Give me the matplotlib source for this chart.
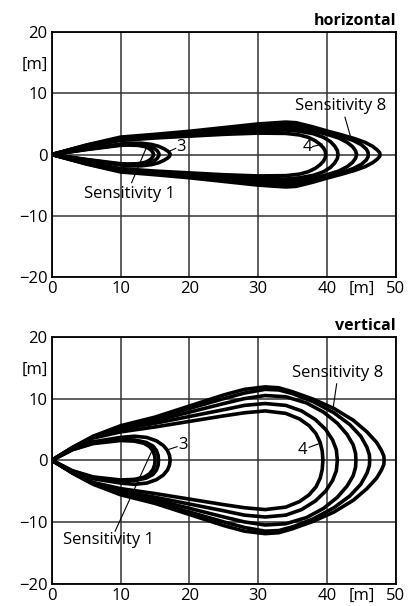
import matplotlib
matplotlib.use('Agg')
import matplotlib.pyplot as plt

plt.rcParams['font.family'] = ['Open Sans', 'DejaVu Sans']

# upper half of each detection field, the lower half is the mirror image
# horizontal field
h1_x = [0, 5, 10, 11, 12.5, 13.5, 14.1, 14.5, 14.7, 14.8]
h1_y = [0, 0.8, 1.5, 1.55, 1.5, 1.3, 1.0, 0.65, 0.3, 0]
h2_x = [0, 5, 10, 11, 13, 14.3, 14.9, 15.3, 15.5, 15.6]
h2_y = [0, 0.85, 1.6, 1.65, 1.55, 1.3, 1.0, 0.65, 0.3, 0]
h3_x = [0, 5, 10, 11, 13, 14.5, 15.5, 16.3, 16.8, 17.1, 17.2]
h3_y = [0, 0.9, 1.7, 1.85, 1.85, 1.65, 1.35, 0.95, 0.6, 0.3, 0]
h4_x = [0, 5, 10, 15, 20, 25, 30, 34, 36, 37.3, 38.3, 39.0, 39.5, 39.75, 39.8]
h4_y = [0, 1.3, 2.3, 2.7, 3.0, 3.3, 3.5, 3.45, 3.2, 2.8, 2.25, 1.65, 1.05, 0.5, 0]
h5_x = [0, 5, 10, 15, 20, 25, 30, 34, 36, 38, 39.5, 40.5, 41.1, 41.5, 41.6]
h5_y = [0, 1.4, 2.5, 2.9, 3.2, 3.6, 3.9, 4.0, 3.8, 3.4, 2.8, 2.1, 1.4, 0.65, 0]
h6_x = [0, 5, 10, 15, 20, 25, 30, 34, 36, 38, 40, 41.7, 42.9, 43.7, 44.15, 44.3]
h6_y = [0, 1.45, 2.6, 3.0, 3.4, 3.8, 4.2, 4.45, 4.25, 3.85, 3.3, 2.7, 2.0, 1.3, 0.6, 0]
h7_x = [0, 5, 10, 15, 20, 25, 30, 34, 36, 38, 40, 42, 43.8, 45.0, 45.7, 45.95, 46.0]
h7_y = [0, 1.5, 2.7, 3.1, 3.6, 4.1, 4.6, 4.9, 4.7, 4.15, 3.6, 3.0, 2.3, 1.6, 0.9, 0.4, 0]
h8_x = [0, 5, 10, 15, 20, 25, 30, 34, 35.5, 38, 40, 42, 44, 45.5, 46.6, 47.3, 47.65, 47.7]
h8_y = [0, 1.55, 2.85, 3.3, 3.8, 4.4, 5.0, 5.3, 5.2, 4.5, 3.85, 3.25, 2.6, 2.0, 1.35, 0.75, 0.3, 0]

# vertical field
v1_x = [0, 3, 6, 10, 12, 13.4, 14.2, 14.7, 14.95, 15.0]
v1_y = [0, 1.7, 2.7, 3.2, 3.1, 2.75, 2.2, 1.5, 0.7, 0]
v2_x = [0, 3, 6, 10, 12, 13.7, 14.7, 15.2, 15.45, 15.5]
v2_y = [0, 1.75, 2.8, 3.35, 3.3, 2.9, 2.3, 1.6, 0.8, 0]
v3_x = [0, 3, 6, 10, 12, 13.8, 15.2, 16.2, 16.8, 17.1, 17.2]
v3_y = [0, 1.8, 3.0, 3.7, 3.9, 3.7, 3.15, 2.4, 1.6, 0.8, 0]
v4_x = [0, 3, 6, 10, 15, 20, 25, 28, 31, 34, 36, 37.4, 38.4, 39.0, 39.3, 39.4]
v4_y = [0, 1.95, 3.6, 4.6, 5.4, 6.3, 7.2, 7.7, 8.0, 7.6, 6.7, 5.6, 4.3, 2.9, 1.5, 0]
v5_x = [0, 3, 6, 10, 15, 20, 25, 28, 31, 34, 36.3, 38.3, 39.8, 40.8, 41.35, 41.5]
v5_y = [0, 2.0, 3.7, 5.0, 6.0, 7.1, 8.2, 8.9, 9.2, 8.9, 8.0, 6.6, 5.0, 3.3, 1.7, 0]
v6_x = [0, 3, 6, 10, 15, 20, 25, 28, 31, 34, 37, 39.5, 41.5, 42.9, 43.8, 44.15, 44.2]
v6_y = [0, 2.0, 3.75, 5.2, 6.4, 7.8, 9.2, 10.0, 10.5, 10.3, 9.3, 7.8, 6.0, 4.2, 2.5, 1.1, 0]
v7_x = [0, 3, 6, 10, 15, 20, 25, 28, 31, 33, 35, 38, 41, 43.3, 44.9, 45.8, 46.15, 46.2]
v7_y = [0, 2.05, 3.8, 5.4, 6.8, 8.4, 10.0, 10.9, 11.5, 11.4, 10.8, 9.5, 7.7, 5.8, 3.9, 2.1, 0.9, 0]
v8_x = [0, 3, 6, 10, 15, 20, 25, 28, 31, 33, 35, 38, 41, 43.8, 45.8, 47.2, 47.9, 48.25, 48.3]
v8_y = [0, 2.1, 3.9, 5.6, 7.0, 8.8, 10.6, 11.5, 11.9, 11.75, 11.1, 9.9, 8.4, 6.5, 4.6, 2.9, 1.6, 0.7, 0]

horizontal = [(h1_x, h1_y), (h2_x, h2_y), (h3_x, h3_y), (h4_x, h4_y),
              (h5_x, h5_y), (h6_x, h6_y), (h7_x, h7_y), (h8_x, h8_y)]
vertical = [(v1_x, v1_y), (v2_x, v2_y), (v3_x, v3_y), (v4_x, v4_y),
            (v5_x, v5_y), (v6_x, v6_y), (v7_x, v7_y), (v8_x, v8_y)]

x_ticks = [0, 10, 20, 30, 40, 50]
y_ticks = [-20, -10, 0, 10, 20]

# labels: (text, text position, leader start, leader end)
h_labels = [('Sensitivity 8', (42.0, 7.9), (42.6, 6.1), (43.4, 3.0)),
            ('Sensitivity 1', (11.3, -6.4), (11.6, -4.6), (13.8, 1.3)),
            ('3', (18.8, 1.2), (18.0, 1.0), (17.0, 0.5)),
            ('4', (37.1, 1.2), (37.9, 1.3), (39.3, 1.7))]
v_labels = [('Sensitivity 8', (41.6, 14.2), (41.4, 12.4), (40.9, 8.6)),
            ('Sensitivity 1', (8.2, -12.9), (9.2, -11.5), (14.7, 1.9)),
            ('3', (19.0, 2.4), (18.2, 2.2), (17.1, 1.8)),
            ('4', (36.4, 1.6), (37.4, 2.1), (39.1, 2.8))]

fig = plt.figure(figsize=(4.18, 6.06), dpi=100)
ax_h = fig.add_axes([0.124, 0.543, 0.823, 0.404])
ax_v = fig.add_axes([0.124, 0.037, 0.823, 0.407])

for ax, curves, labels, title in [(ax_h, horizontal, h_labels, 'horizontal'),
                                  (ax_v, vertical, v_labels, 'vertical')]:
    for xs, ys in curves:
        px = list(xs) + list(xs[::-1])
        py = list(ys) + [-y for y in ys[::-1]]
        ax.plot(px, py, color='black', lw=2.6, solid_joinstyle='round',
                solid_capstyle='round', zorder=3)
    for text, pos, p0, p1 in labels:
        ax.text(pos[0], pos[1], text, ha='center', va='center', fontsize=12,
                zorder=4)
        ax.plot([p0[0], p1[0]], [p0[1], p1[1]], color='black', lw=0.8, zorder=4)

    ax.set_xlim(0, 50)
    ax.set_ylim(-20, 20)
    ax.set_xticks(x_ticks)
    ax.set_yticks(y_ticks)
    ax.set_xticks([45], minor=True)
    ax.set_xticklabels(['[m]'], minor=True)
    ax.set_yticks([15], minor=True)
    ax.set_yticklabels(['[m]'], minor=True)
    ax.tick_params(which='both', length=0, labelsize=12, pad=3)
    ax.grid(True, which='major', color='#333333', lw=1.1)
    ax.set_axisbelow(True)
    for s in ax.spines.values():
        s.set_linewidth(1.3)
    ax.set_title(title, loc='right', fontweight='bold', fontsize=11.5, pad=5)

fig.savefig('out.png', dpi=100)
